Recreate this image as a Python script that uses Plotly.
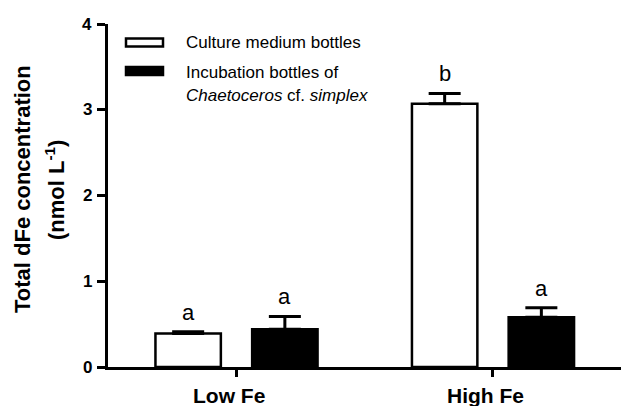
import plotly.graph_objects as go

categories = ["Low Fe", "High Fe"]
culture_mean = [0.39, 3.07]
culture_err = [0.02, 0.12]
incub_mean = [0.44, 0.58]
incub_err = [0.15, 0.11]
culture_letters = ["a", "b"]
incub_letters = ["a", "a"]
y_ticks = [0, 1, 2, 3, 4]

FONT = "Liberation Sans, Arial, sans-serif"
W, H = 622, 406
ML, MR, MT, MB = 108, 1, 24, 39
PW = W - ML - MR
PH = H - MT - MB

BAR_W = 0.255
OFF_C = -0.315
OFF_I = 0.062

fig = go.Figure()
fig.add_trace(go.Bar(
    x=categories, y=culture_mean, width=BAR_W, offset=OFF_C,
    marker=dict(color="white", line=dict(color="black", width=2.5)),
    error_y=dict(type="data", array=culture_err, arrayminus=[0]*len(culture_err),
                 symmetric=False, color="black", thickness=3, width=16),
    name="Culture medium bottles", showlegend=False,
))
fig.add_trace(go.Bar(
    x=categories, y=incub_mean, width=BAR_W, offset=OFF_I,
    marker=dict(color="black", line=dict(color="black", width=2.5)),
    error_y=dict(type="data", array=incub_err, arrayminus=[0]*len(incub_err),
                 symmetric=False, color="black", thickness=3, width=16),
    name="Incubation bottles", showlegend=False,
))

annotations = []
for i in range(len(categories)):
    annotations.append(dict(x=i + OFF_C + BAR_W / 2, y=culture_mean[i] + culture_err[i],
                            text=culture_letters[i], showarrow=False, yanchor="bottom",
                            yshift=5, font=dict(size=22, color="black", family=FONT)))
    annotations.append(dict(x=i + OFF_I + BAR_W / 2, y=incub_mean[i] + incub_err[i],
                            text=incub_letters[i], showarrow=False, yanchor="bottom",
                            yshift=5, font=dict(size=22, color="black", family=FONT)))

def px_x(p):
    return (p - ML) / PW

def px_y(p):
    return 1 - (p - MT) / PH

# y tick labels
for v in y_ticks:
    annotations.append(dict(xref="paper", yref="y", x=px_x(94), y=v,
                            text="<b>%d</b>" % v, showarrow=False,
                            xanchor="right", yanchor="middle",
                            font=dict(size=17, color="black", family=FONT)))

# x category labels
for i, c in enumerate(categories):
    annotations.append(dict(x=i, xref="x", yref="paper", y=px_y(395), xshift=-7,
                            text="<b>%s</b>" % c, showarrow=False,
                            xanchor="center", yanchor="middle",
                            font=dict(size=21, color="black", family=FONT)))

# y-axis title (two lines)
annotations.append(dict(xref="paper", yref="paper", x=px_x(22), y=px_y(189),
                        text="<b>Total dFe concentration</b>", textangle=-90,
                        showarrow=False, xanchor="center", yanchor="middle",
                        font=dict(size=22, color="black", family=FONT)))
annotations.append(dict(xref="paper", yref="paper", x=px_x(55), y=px_y(190),
                        text="<b>(nmol L<sup>-1</sup>)</b>", textangle=-90,
                        showarrow=False, xanchor="center", yanchor="middle",
                        font=dict(size=22, color="black", family=FONT)))

# legend text
annotations.append(dict(xref="paper", yref="paper", x=px_x(184), y=px_y(43),
                        text="Culture medium bottles", showarrow=False,
                        xanchor="left", yanchor="middle",
                        font=dict(size=17, color="black", family=FONT)))
annotations.append(dict(xref="paper", yref="paper", x=px_x(184), y=px_y(73),
                        text="Incubation bottles of", showarrow=False,
                        xanchor="left", yanchor="middle",
                        font=dict(size=17, color="black", family=FONT)))
annotations.append(dict(xref="paper", yref="paper", x=px_x(184), y=px_y(95),
                        text="<i>Chaetoceros</i> cf. <i>simplex</i>", showarrow=False,
                        xanchor="left", yanchor="middle",
                        font=dict(size=17, color="black", family=FONT)))

shapes = [
    dict(type="rect", xref="paper", yref="paper", x0=px_x(126), x1=px_x(163),
         y0=px_y(38.5), y1=px_y(46.5), fillcolor="white",
         line=dict(color="black", width=2.5)),
    dict(type="rect", xref="paper", yref="paper", x0=px_x(126), x1=px_x(163),
         y0=px_y(67), y1=px_y(75), fillcolor="black",
         line=dict(color="black", width=2.5)),
]

fig.update_layout(
    width=W, height=H,
    margin=dict(l=ML, r=MR, t=MT, b=MB),
    plot_bgcolor="white", paper_bgcolor="white",
    barmode="overlay",
    font=dict(family=FONT, color="black"),
    annotations=annotations, shapes=shapes,
    xaxis=dict(type="category", range=[-0.5, 1.5], showline=True, linewidth=3,
               linecolor="black", ticks="outside", ticklen=7, tickwidth=3,
               tickcolor="black", showgrid=False, zeroline=False,
               showticklabels=False),
    yaxis=dict(range=[0, 4], tickvals=y_ticks, showticklabels=False,
               showline=True, linewidth=3, linecolor="black", ticks="outside",
               ticklen=8, tickwidth=3, tickcolor="black", showgrid=False,
               zeroline=False),
)

fig.write_html("out.html", config={"displayModeBar": False},
               post_script="document.body.style.margin='0';document.body.style.overflow='hidden';")
